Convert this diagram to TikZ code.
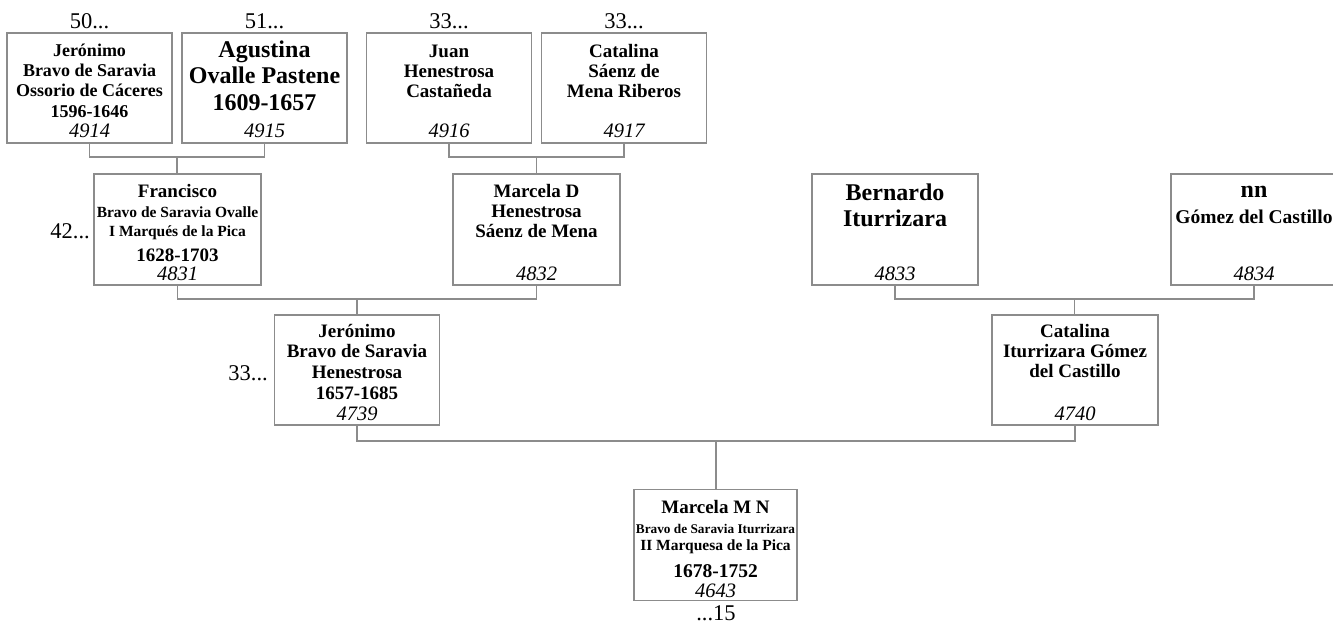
\documentclass[tikz,border=0pt]{standalone}
\usepackage{fontspec}
\setmainfont{Liberation Serif}
\definecolor{linegray}{HTML}{8C8C8C}
\tikzset{
  pbox/.style={draw=linegray, line width=1.3pt, minimum width=165pt, minimum height=110pt, inner sep=0pt},
  conn/.style={draw=linegray, line width=1.3pt},
  tl/.style={anchor=base, inner sep=0pt, font=\bfseries\fontsize{19}{20}\selectfont},
  tlsm/.style={anchor=base, inner sep=0pt, font=\bfseries\fontsize{15.5}{17}\selectfont},
  tlbig/.style={anchor=base, inner sep=0pt, font=\bfseries\fontsize{24}{26}\selectfont},
  num/.style={anchor=base, inner sep=0pt, font=\itshape\fontsize{20.5}{21}\selectfont},
  gen/.style={anchor=base, inner sep=0pt, font=\fontsize{22.5}{23}\selectfont},
}
\begin{document}
\begin{tikzpicture}[x=1pt,y=-1pt]
\useasboundingbox (0,0) rectangle (1333,624);
% boxes
\node[pbox] (b4914) at (89.5,88) {};
\node[pbox] (b4915) at (264.5,88) {};
\node[pbox] (b4916) at (449,88) {};
\node[pbox] (b4917) at (624,88) {};
\node[pbox, minimum width=167pt, minimum height=111pt] (bFran) at (177.5,229.5) {};
\node[pbox, minimum width=167pt, minimum height=111pt] (bMarD) at (536.5,229.5) {};
\node[pbox, minimum width=166pt, minimum height=111pt] (bBern) at (895,229.5) {};
\node[pbox, minimum width=166pt, minimum height=111pt] (bnn) at (1254,229.5) {};
\node[pbox] (bJer) at (357,370) {};
\node[pbox, minimum width=166pt] (bCat) at (1075,370) {};
\node[pbox, minimum width=163pt, minimum height=111pt] (bMMN) at (715.5,545) {};
% junctions
\coordinate (j1) at (177,157);
\coordinate (j2) at (536.5,157);
\coordinate (j3) at (357,299);
\coordinate (j4) at (1074.5,299);
\coordinate (j5) at (716,441);
% connectors
\draw[conn] (b4914.south) |- (j1) -| (b4915.south);
\draw[conn] (j1) -- (j1 |- bFran.north);
\draw[conn] (b4916.south) |- (j2) -| (b4917.south);
\draw[conn] (j2) -- (j2 |- bMarD.north);
\draw[conn] (bFran.south) |- (j3) -| (bMarD.south);
\draw[conn] (j3) -- (j3 |- bJer.north);
\draw[conn] (bBern.south) |- (j4) -| (bnn.south);
\draw[conn] (j4) -- (j4 |- bCat.north);
\draw[conn] (bJer.south) |- (j5) -| (bCat.south);
\draw[conn] (j5) -- (j5 |- bMMN.north);
% generation labels
\node[gen] (g50) at (89.5,28) {50...};
\node[gen] (g51) at (264.5,28) {51...};
\node[gen] (g33a) at (449,28) {33...};
\node[gen] (g33b) at (624,28) {33...};
\node[gen, anchor=base east] (g42) at (90,238) {42...};
\node[gen, anchor=base east] (g33c) at (268,380) {33...};
\node[gen] (g15) at (716,620) {...15};
% 4914
\node[tl, font=\bfseries\fontsize{18}{20}\selectfont] (t1a) at (89.5,56) {Jerónimo};
\node[tl, font=\bfseries\fontsize{18}{20}\selectfont] (t1b) at (89.5,76) {Bravo de Saravia};
\node[tl, font=\bfseries\fontsize{18}{20}\selectfont] (t1c) at (89.5,96) {Ossorio de Cáceres};
\node[tl, font=\bfseries\fontsize{18}{20}\selectfont] (t1d) at (89.5,117) {1596-1646};
\node[num] (n4914) at (89.5,137) {4914};
% 4915
\node[tlbig] (t2a) at (264.5,57) {Agustina};
\node[tlbig] (t2b) at (264.5,83) {Ovalle Pastene};
\node[tlbig] (t2c) at (264.5,110) {1609-1657};
\node[num] (n4915) at (264.5,137) {4915};
% 4916
\node[tl] (t3a) at (449,57) {Juan};
\node[tl] (t3b) at (449,77) {Henestrosa};
\node[tl] (t3c) at (449,97) {Castañeda};
\node[num] (n4916) at (449,137) {4916};
% 4917
\node[tl] (t4a) at (624,57) {Catalina};
\node[tl] (t4b) at (624,77) {Sáenz de};
\node[tl] (t4c) at (624,97) {Mena Riberos};
\node[num] (n4917) at (624,137) {4917};
% Francisco
\node[tl] (t5a) at (177.5,197) {Francisco};
\node[tlsm] (t5b) at (177.5,217) {Bravo de Saravia Ovalle};
\node[tlsm] (t5c) at (177.5,236) {I Marqués de la Pica};
\node[tl] (t5d) at (177.5,261) {1628-1703};
\node[num] (n4831) at (177.5,280) {4831};
% Marcela D
\node[tl] (t6a) at (536.5,197) {Marcela D};
\node[tl] (t6b) at (536.5,217) {Henestrosa};
\node[tl] (t6c) at (536.5,237) {Sáenz de Mena};
\node[num] (n4832) at (536.5,280) {4832};
% Bernardo
\node[tlbig] (t7a) at (895,200) {Bernardo};
\node[tlbig] (t7b) at (895,226) {Iturrizara};
\node[num] (n4833) at (895,280) {4833};
% nn
\node[tlbig] (t8a) at (1254,197) {nn};
\node[tl, font=\bfseries\fontsize{19.5}{20}\selectfont] (t8b) at (1254,223) {Gómez del Castillo};
\node[num] (n4834) at (1254,280) {4834};
% Jeronimo 4739
\node[tl] (t9a) at (357,337) {Jerónimo};
\node[tl] (t9b) at (357,357) {Bravo de Saravia};
\node[tl] (t9c) at (357,378) {Henestrosa};
\node[tl] (t9d) at (357,399) {1657-1685};
\node[num] (n4739) at (357,420) {4739};
% Catalina 4740
\node[tl] (t10a) at (1075,337) {Catalina};
\node[tl] (t10b) at (1075,357) {Iturrizara Gómez};
\node[tl] (t10c) at (1075,377) {del Castillo};
\node[num] (n4740) at (1075,420) {4740};
% Marcela M N
\node[tl] (t11a) at (715.5,513) {Marcela M N};
\node[tl, font=\bfseries\fontsize{13.3}{15}\selectfont] (t11b) at (715.5,533) {Bravo de Saravia Iturrizara};
\node[tlsm] (t11c) at (715.5,550) {II Marquesa de la Pica};
\node[tl, font=\bfseries\fontsize{19.5}{20}\selectfont] (t11d) at (715.5,577) {1678-1752};
\node[num] (n4643) at (715.5,597) {4643};
\end{tikzpicture}
\end{document}
